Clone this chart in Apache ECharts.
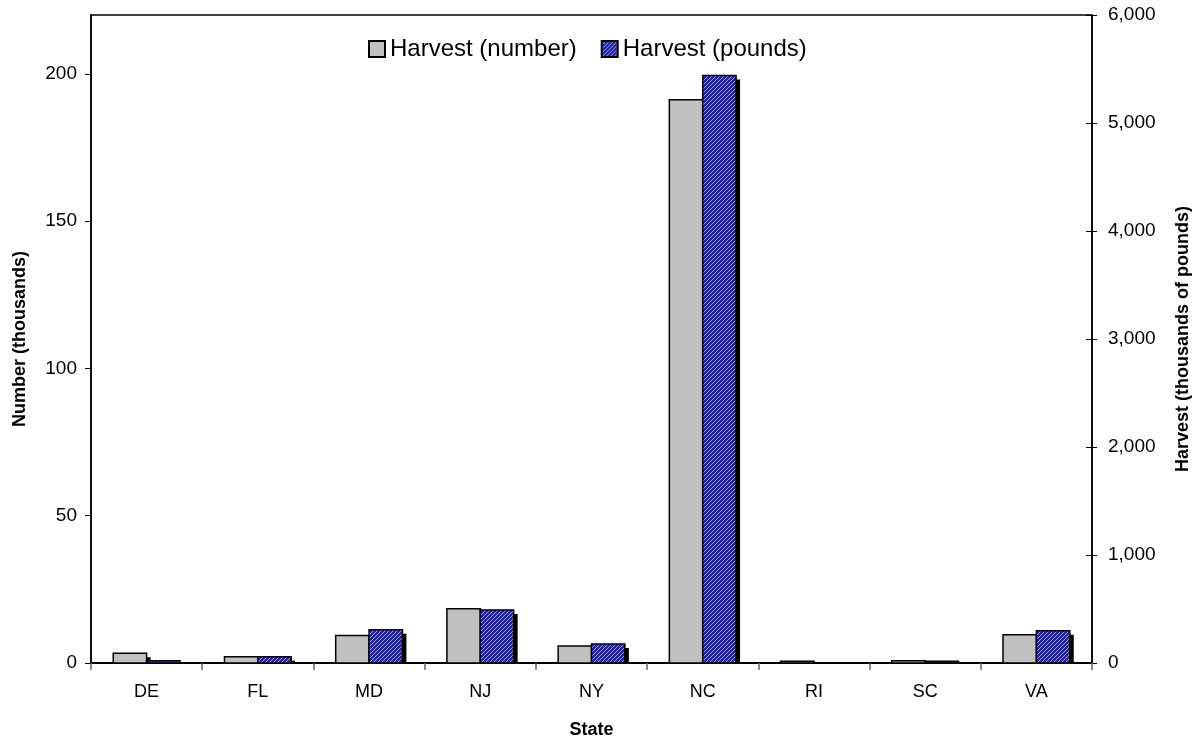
<!DOCTYPE html>
<html>
<head>
<meta charset="utf-8">
<script src="https://cdn.jsdelivr.net/npm/echarts@6/dist/echarts.min.js"></script>
<style>
html,body{margin:0;padding:0;background:#fff;}
#chart{width:1200px;height:744px;}
</style>
</head>
<body>
<div id="chart"></div>
<script>
// Data
const states = ['DE', 'FL', 'MD', 'NJ', 'NY', 'NC', 'RI', 'SC', 'VA'];
const harvestNumber = [3.3, 2.1, 9.3, 18.4, 5.8, 191.2, 0.6, 0.8, 9.6];      // thousands of fish
const harvestPounds = [21, 58, 308, 490, 176, 5440, 2, 16, 299];             // thousands of pounds
const leftTicks = { min: 0, max: 220, interval: 50 };
const rightTicks = { min: 0, max: 6000, interval: 1000 };

// Hatch pattern (blue with light upward diagonals)
function makePattern() {
  const c = document.createElement('canvas');
  c.width = 4; c.height = 4;
  const g = c.getContext('2d');
  g.fillStyle = '#2424a0';
  g.fillRect(0, 0, 4, 4);
  g.fillStyle = '#9a9ae8';
  for (let i = 0; i < 4; i++) g.fillRect(i, 3 - i, 1, 1);
  return c;
}
const hatch = { image: makePattern(), repeat: 'repeat' };

const font = '"Liberation Sans", Arial, sans-serif';
const chart = echarts.init(document.getElementById('chart'), null, { renderer: 'canvas' });

const BAR_FRAC = 0.3; // fraction of category band per bar
function makeRender(side, fill) {
  return function (params, api) {
    const xi = api.value(0), v = api.value(1);
    const top = api.coord([xi, v]);
    const base = api.coord([xi, 0]);
    const band = api.size([1, 0])[0];
    const w = band * BAR_FRAC;
    const left = side === 0 ? top[0] - w : top[0];
    const h = base[1] - top[1];
    return {
      type: 'group',
      children: [
        { type: 'rect',
          shape: { x: left + 4, y: top[1] + 4, width: w, height: Math.max(0, h - 4) },
          style: { fill: '#000' } },
        { type: 'rect',
          shape: { x: left, y: top[1], width: w, height: h },
          style: { fill: fill, stroke: '#000', lineWidth: 1.5 } }
      ]
    };
  };
}

chart.setOption({
  backgroundColor: '#fff',
  animation: false,
  textStyle: { fontFamily: font, color: '#000' },
  grid: {
    left: 91, right: 108, top: 15, bottom: 81,
    show: true, borderColor: '#000', borderWidth: 1.5, backgroundColor: 'transparent'
  },
  legend: {
    top: 32, left: 363,
    icon: 'rect',
    itemWidth: 16, itemHeight: 16, itemGap: 24,
    textStyle: { fontFamily: font, fontSize: 24, color: '#000' },
    data: ['Harvest (number)', 'Harvest (pounds)']
  },
  xAxis: {
    type: 'category',
    data: states,
    name: 'State',
    nameLocation: 'middle',
    nameGap: 58,
    nameTextStyle: { fontFamily: font, fontSize: 18, fontWeight: 'bold', color: '#000' },
    axisLine: { lineStyle: { color: '#000', width: 2 } },
    axisTick: { show: true, length: 7, lineStyle: { color: '#666', width: 1.5 } },
    axisLabel: { fontFamily: font, fontSize: 18, color: '#000', margin: 20 }
  },
  yAxis: [
    {
      type: 'value',
      position: 'left',
      min: leftTicks.min, max: leftTicks.max, interval: leftTicks.interval,
      name: 'Number (thousands)',
      nameLocation: 'middle',
      nameRotate: 90,
      nameGap: 62,
      nameTextStyle: { fontFamily: font, fontSize: 18, fontWeight: 'bold', color: '#000' },
      axisLine: { show: true, lineStyle: { color: '#000', width: 1.5 } },
      axisTick: { show: true, length: 6, lineStyle: { color: '#000' } },
      axisLabel: { fontFamily: font, fontSize: 19, color: '#000', margin: 14, showMaxLabel: false },
      splitLine: { show: false }
    },
    {
      type: 'value',
      position: 'right',
      min: rightTicks.min, max: rightTicks.max, interval: rightTicks.interval,
      name: 'Harvest (thousands of pounds)',
      nameLocation: 'middle',
      nameRotate: 90,
      nameGap: 82,
      nameTextStyle: { fontFamily: font, fontSize: 18, fontWeight: 'bold', color: '#000' },
      axisLine: { show: true, lineStyle: { color: '#000', width: 1.5 } },
      axisTick: { show: true, length: 5, lineStyle: { color: '#000' } },
      axisLabel: { fontFamily: font, fontSize: 19, color: '#000', margin: 16,
        formatter: v => v.toLocaleString('en-US') },
      splitLine: { show: false }
    },
    {
      type: 'value',
      position: 'right',
      min: rightTicks.min, max: rightTicks.max, interval: rightTicks.interval,
      axisLine: { show: false },
      axisTick: { show: true, inside: true, length: 6, lineStyle: { color: '#000' } },
      axisLabel: { show: false },
      splitLine: { show: false }
    }
  ],
  series: [
    {
      name: 'Harvest (number)',
      type: 'custom',
      yAxisIndex: 0,
      encode: { x: 0, y: 1 },
      data: harvestNumber.map((v, i) => [i, v]),
      itemStyle: { color: '#c0c0c0', borderColor: '#000', borderWidth: 1.5 },
      renderItem: makeRender(0, '#c0c0c0'),
      z: 2
    },
    {
      name: 'Harvest (pounds)',
      type: 'custom',
      yAxisIndex: 1,
      encode: { x: 0, y: 1 },
      data: harvestPounds.map((v, i) => [i, v]),
      itemStyle: { color: hatch, borderColor: '#000', borderWidth: 1.5 },
      renderItem: makeRender(1, hatch),
      z: 3
    }
  ]
});
</script>
</body>
</html>
